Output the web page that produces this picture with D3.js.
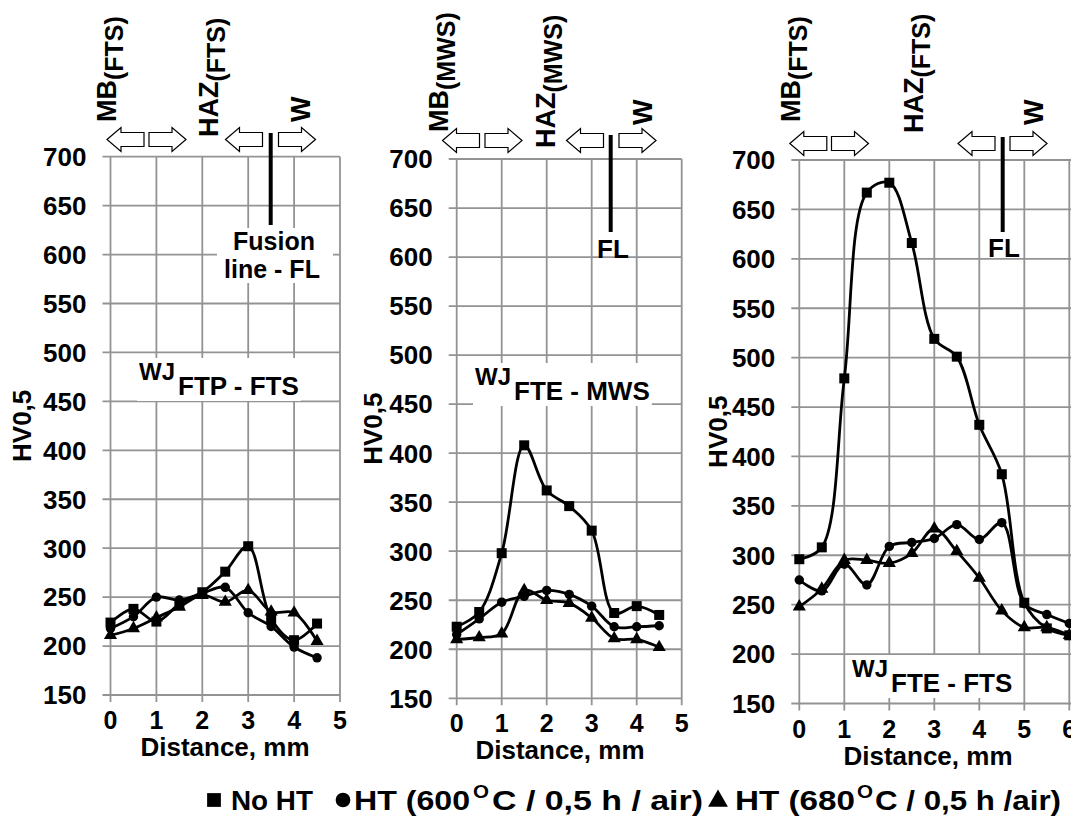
<!DOCTYPE html>
<html>
<head>
<meta charset="utf-8">
<script src="https://cdn.jsdelivr.net/npm/d3@7"></script>
<style>
  body { margin: 0; background: #fff; }
  text { font-family: "Liberation Sans", Arial, sans-serif; font-weight: bold; fill: #000; }
</style>
</head>
<body>
<svg id="chart" width="1071" height="816"></svg>
<script>
// distance from start of measurement, mm
const distFTS = [0, 0.5, 1, 1.5, 2, 2.5, 3, 3.5, 4, 4.5];
const distMWS = [0, 0.5, 1, 1.5, 2, 2.5, 3, 3.5, 4, 4.5];
const distFTE = [0, 0.5, 1, 1.5, 2, 2.5, 3, 3.5, 4, 4.5, 5, 5.5, 6];

// WJ FTP - FTS
const ftsNoHT = [224, 238, 225, 243, 255, 276, 302, 228, 206, 223];
const fts600  = [218, 230, 250, 247, 254, 260, 234, 220, 199, 188];
const fts680  = [211, 218, 229, 240, 252, 245, 257, 235, 234, 205];

// WJ FTE - MWS
const mwsNoHT = [223, 238, 298, 408, 362, 346, 321, 237, 244, 235];
const mws600  = [215, 231, 248, 254, 260, 256, 244, 223, 223, 224];
const mws680  = [210, 212, 216, 260, 250, 247, 232, 211, 210, 202];

// WJ FTE - FTS
const fteNoHT = [296, 308, 479, 667, 677, 616, 519, 501, 432, 382, 252, 226, 219];
const fte600  = [275, 264, 291, 270, 309, 313, 317, 331, 316, 333, 251, 240, 231];
const fte680  = [248, 266, 295, 295, 292, 302, 327, 304, 277, 244, 227, 227, 219];

const hvTicks = [150, 200, 250, 300, 350, 400, 450, 500, 550, 600, 650, 700];
const seriesSymbols = [d3.symbolSquare, d3.symbolCircle, d3.symbolTriangle];
const symbolSizes = [100, 70, 75];

const svg = d3.select("#chart");
const gridColor = "#939393";

// one panel per welded joint
const panels = [
  { dist: distFTS, series: [ftsNoHT, fts600, fts680], xTicks: [0,1,2,3,4,5], xDomain: [0,5],
    xRange: [110.5, 340], yRange: [695, 156.7], gridRight: 340, hvX: 31, titleX: 225,
    wj: { x: 139, y: 380, sub: "FTP - FTS" } },
  { dist: distMWS, series: [mwsNoHT, mws600, mws680], xTicks: [0,1,2,3,4,5], xDomain: [0,5],
    xRange: [456.7, 681.7], yRange: [698.3, 159], gridRight: 681.7, hvX: 382, titleX: 560,
    wj: { x: 475, y: 385, sub: "FTE - MWS" } },
  { dist: distFTE, series: [fteNoHT, fte600, fte680], xTicks: [0,1,2,3,4,5,6], xDomain: [0,6],
    xRange: [799.3, 1069.3], yRange: [703.5, 160], gridRight: 1080, hvX: 727, titleX: 928,
    wj: { x: 852, y: 677, sub: "FTE - FTS" } }
];

panels.forEach(p => {
  const x = d3.scaleLinear().domain(p.xDomain).range(p.xRange);
  const y = d3.scaleLinear().domain([150, 700]).range(p.yRange);
  const g = svg.append("g");

  // grid
  g.selectAll(".hgrid").data(hvTicks).join("line")
    .attr("x1", p.xRange[0] - 8).attr("x2", p.gridRight)
    .attr("y1", d => y(d)).attr("y2", d => y(d))
    .attr("stroke", gridColor).attr("stroke-width", 1.8);
  g.selectAll(".vgrid").data(p.xTicks).join("line")
    .attr("x1", d => x(d)).attr("x2", d => x(d))
    .attr("y1", y(700)).attr("y2", y(150) + 7)
    .attr("stroke", gridColor).attr("stroke-width", 1.8);

  // y tick labels
  g.selectAll(".ylab").data(hvTicks).join("text")
    .attr("x", p.xRange[0] - 24).attr("y", d => y(d)).attr("dy", "0.36em")
    .attr("text-anchor", "end").style("font-size", "26px")
    .text(d => d);

  // x tick labels
  g.selectAll(".xlab").data(p.xTicks).join("text")
    .attr("x", d => x(d)).attr("y", y(150) + 34)
    .attr("text-anchor", "middle").style("font-size", "25px")
    .text(d => d);

  g.append("text")
    .attr("x", p.titleX).attr("y", y(150) + 61)
    .attr("text-anchor", "middle").style("font-size", "26px")
    .text("Distance, mm");

  g.append("text")
    .attr("transform", `translate(${p.hvX},${(p.yRange[0] + p.yRange[1]) / 2}) rotate(-90)`)
    .attr("text-anchor", "middle").style("font-size", "26px")
    .text("HV0,5");

  // sub-title WJ
  const wj = g.append("text").attr("x", p.wj.x).attr("y", p.wj.y).style("font-size", "24px");
  wj.append("tspan").text("WJ");
  wj.append("tspan").attr("dx", 3).attr("dy", 15).style("font-size", "26px").text(p.wj.sub);
  const bb = wj.node().getBBox();
  g.insert("rect", "text")
    .attr("x", bb.x - 2).attr("y", bb.y).attr("width", bb.width + 4).attr("height", bb.height)
    .attr("fill", "#fff");

  // series
  const line = d3.line().curve(d3.curveCatmullRom.alpha(0.5))
    .x(d => x(d[0])).y(d => y(d[1]));
  p.series.forEach((vals, i) => {
    const pts = p.dist.map((d, j) => [d, vals[j]]);
    g.append("path").datum(pts)
      .attr("d", line).attr("fill", "none")
      .attr("stroke", "#000").attr("stroke-width", 2.8);
    g.selectAll(null).data(pts).join("path")
      .attr("transform", d => `translate(${x(d[0])},${y(d[1])})`)
      .attr("d", d3.symbol().type(seriesSymbols[i]).size(symbolSizes[i]))
      .attr("fill", "#000");
  });
});

// zone labels above the panels
function zoneLabel(xb, y0, main, sub) {
  const t = svg.append("text")
    .attr("transform", `translate(${xb},${y0}) rotate(-90)`)
    .style("font-size", "27px");
  t.append("tspan").text(main);
  if (sub) t.append("tspan").attr("dy", 7).style("font-size", "25px").text(sub);
}
zoneLabel(116, 122, "MB", "(FTS)");
zoneLabel(218, 137, "HAZ", "(FTS)");
zoneLabel(310, 122, "W");
zoneLabel(448, 132, "MB", "(MWS)");
zoneLabel(555, 148, "HAZ", "(MWS)");
zoneLabel(652, 125, "W");
zoneLabel(800, 122, "MB", "(FTS)");
zoneLabel(923, 133, "HAZ", "(FTS)");
zoneLabel(1043, 125, "W");

// hollow block arrows
function blockArrow(cx, cy, dir) {
  const w = 37, h = 24, head = 14, s = 7;
  const pts = [[-w/2, 0], [-w/2 + head, -h/2], [-w/2 + head, -s], [w/2, -s],
               [w/2, s], [-w/2 + head, s], [-w/2 + head, h/2]];
  svg.append("path")
    .attr("transform", `translate(${cx},${cy}) scale(${dir},1)`)
    .attr("d", d3.line()(pts) + "Z")
    .attr("fill", "#fff").attr("stroke", "#000").attr("stroke-width", 1.2);
}
[[125.5, 139.5], [167.5, 139.5], [244, 139.5], [297, 139.5]].forEach((c, i) => blockArrow(c[0], c[1], i % 2 ? -1 : 1));
[[461, 140.5], [503.5, 140.5], [585, 140.5], [637.5, 140.5]].forEach((c, i) => blockArrow(c[0], c[1], i % 2 ? -1 : 1));
[[808.3, 143.5], [850, 143.5], [976.5, 143.5], [1028.5, 143.5]].forEach((c, i) => blockArrow(c[0], c[1], i % 2 ? -1 : 1));

// fusion line markers
[[270.7, 133, 225], [610.7, 135, 232], [1002.7, 137, 232]].forEach(b => {
  svg.append("line").attr("x1", b[0]).attr("x2", b[0]).attr("y1", b[1]).attr("y2", b[2])
    .attr("stroke", "#000").attr("stroke-width", 4);
});
svg.append("rect").attr("x", 217).attr("y", 228).attr("width", 116).attr("height", 55).attr("fill", "#fff");
svg.append("text").attr("x", 274).attr("y", 250).attr("text-anchor", "middle").style("font-size", "25px").text("Fusion");
svg.append("text").attr("x", 272).attr("y", 278).attr("text-anchor", "middle").style("font-size", "25px").text("line - FL");
svg.append("text").attr("x", 613).attr("y", 258).attr("text-anchor", "middle").style("font-size", "26px").text("FL");
svg.append("text").attr("x", 1004).attr("y", 257).attr("text-anchor", "middle").style("font-size", "26px").text("FL");

// legend (pieces placed and stretched to the widths in the reference)
const legend = svg.append("g");
const legendMarks = [{ sx: 214, size: 190 }, { sx: 343, size: 170 }, { sx: 718, size: 170 }];
legendMarks.forEach((m, i) => {
  legend.append("path")
    .attr("transform", `translate(${m.sx},${i === 2 ? 801 : 800})`)
    .attr("d", d3.symbol().type(seriesSymbols[i]).size(m.size))
    .attr("fill", "#000");
});
const legendTexts = [
  { x: 231, w: 82, y: 810, fs: 27, t: "No HT" },
  { x: 354, w: 116, y: 810, fs: 27, t: "HT (600" },
  { x: 473, w: 16, y: 798, fs: 18, t: "O" },
  { x: 492, w: 211, y: 810, fs: 27, t: "C / 0,5 h / air)" },
  { x: 735, w: 120, y: 810, fs: 27, t: "HT (680" },
  { x: 857, w: 16, y: 798, fs: 18, t: "O" },
  { x: 875, w: 186, y: 810, fs: 27, t: "C / 0,5 h /air)" }
];
legendTexts.forEach(d => {
  legend.append("text")
    .attr("x", d.x).attr("y", d.y)
    .attr("textLength", d.w).attr("lengthAdjust", "spacingAndGlyphs")
    .style("font-size", d.fs + "px")
    .text(d.t);
});
</script>
</body>
</html>
